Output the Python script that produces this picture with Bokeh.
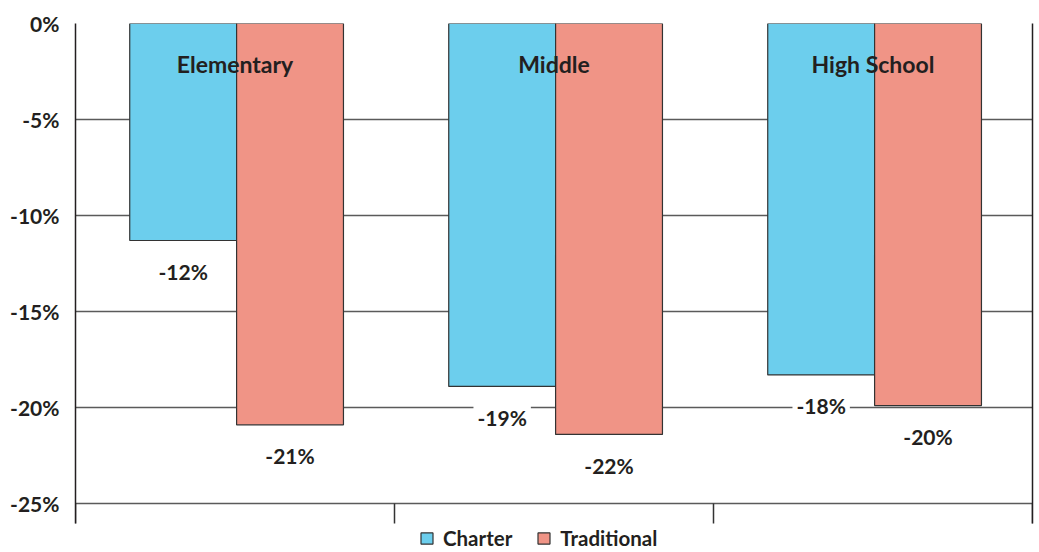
from bokeh.plotting import figure
from bokeh.models import ColumnDataSource, FixedTicker, Legend, LegendItem, Range1d, LinearAxis
from bokeh.core.properties import value
from bokeh.embed import file_html
from bokeh.resources import INLINE

categories = ["Elementary", "Middle", "High School"]
charter = [-11.3, -18.9, -18.3]
traditional = [-20.9, -21.4, -19.9]
charter_labels = ["-12%", "-19%", "-18%"]
traditional_labels = ["-21%", "-22%", "-20%"]
y_ticks = [0, -5, -10, -15, -20, -25]
y_tick_labels = ["0%", "-5%", "-10%", "-15%", "-20%", "-25%"]
series_names = ["Charter", "Traditional"]

FONT = "Lato"
TXT = "#231f20"
GRID = "#5a5a5a"
C_CH = "#6CCEED"
C_TR = "#F09486"

Y_MIN = -25
AXIS_EXT = -26.04      # vertical frame lines run a little below the last gridline
Y_LOW = -27.55         # extra room below for the legend

BAR_W = 0.335
centers = [i + 0.5 for i in range(len(categories))]
x_ch = [c - BAR_W / 2 + 0.005 for c in centers]
x_tr = [c + BAR_W / 2 + 0.005 for c in centers]

src_ch = ColumnDataSource(dict(x=x_ch, top=[0] * 3, bottom=charter, lab=charter_labels))
src_tr = ColumnDataSource(dict(x=x_tr, top=[0] * 3, bottom=traditional, lab=traditional_labels))
src_cat = ColumnDataSource(dict(x=centers, y=[0] * 3, t=categories))

p = figure(frame_width=957, frame_height=529, x_range=Range1d(0, 3), y_range=Range1d(Y_LOW, 0),
           output_backend="svg", toolbar_location=None, x_axis_location=None,
           min_border_left=75, min_border_top=23, min_border_right=3, min_border_bottom=0)

p.background_fill_color = "white"
p.border_fill_color = "white"
p.outline_line_color = None

# y axis (left)
p.yaxis.ticker = FixedTicker(ticks=y_ticks)
p.yaxis.major_label_overrides = {t: l for t, l in zip(y_ticks, y_tick_labels)}
p.yaxis.bounds = (AXIS_EXT, 0)
p.yaxis.major_tick_line_color = None
p.yaxis.minor_tick_line_color = None
p.yaxis.axis_line_color = TXT
p.yaxis.axis_line_width = 1.5
p.yaxis.major_label_text_font = FONT
p.yaxis.major_label_text_font_style = "bold"
p.yaxis.major_label_text_font_size = "21px"
p.yaxis.major_label_text_color = TXT
p.yaxis.major_label_standoff = 10

# right frame line
ry = LinearAxis(ticker=FixedTicker(ticks=[]), bounds=(AXIS_EXT, 0),
                axis_line_color=TXT, axis_line_width=1.5,
                major_tick_line_color=None, minor_tick_line_color=None,
                major_label_text_font_size="0px", major_label_standoff=0)
p.add_layout(ry, "right")

# x axis: only group-boundary ticks hanging below the -25% line
xa = LinearAxis(ticker=FixedTicker(ticks=[0, 1, 2, 3]), fixed_location=Y_MIN,
                major_label_overrides={0: "", 1: "", 2: "", 3: ""},
                major_tick_out=20, major_tick_in=0,
                major_tick_line_color="#333333", major_tick_line_width=1.5,
                minor_tick_line_color=None, axis_line_color=None,
                major_label_text_font_size="0px", major_label_standoff=0)
p.add_layout(xa, "below")

p.xgrid.grid_line_color = None
p.ygrid.ticker = FixedTicker(ticks=y_ticks)
p.ygrid.grid_line_color = GRID
p.ygrid.grid_line_width = 1.5

r_ch = p.vbar(x="x", top="top", bottom="bottom", width=BAR_W, source=src_ch,
              fill_color=C_CH, line_color="#333333", line_width=1.2)
r_tr = p.vbar(x="x", top="top", bottom="bottom", width=BAR_W, source=src_tr,
              fill_color=C_TR, line_color="#333333", line_width=1.2)

for src in (src_ch, src_tr):
    p.text(x="x", y="bottom", text="lab", source=src, y_offset=31,
           text_align="center", text_baseline="middle",
           text_font=value(FONT), text_font_style="bold", text_font_size="21px",
           text_color=TXT, background_fill_color="white", padding=4)

p.text(x="x", y="y", text="t", source=src_cat, y_offset=40,
       text_align="center", text_baseline="middle",
       text_font=value(FONT), text_font_style="bold", text_font_size="23px",
       text_color=TXT)

legend = Legend(items=[LegendItem(label=series_names[0], renderers=[r_ch]),
                       LegendItem(label=series_names[1], renderers=[r_tr])],
                orientation="horizontal", location=(344, 2))
legend.border_line_color = None
legend.background_fill_alpha = 0
legend.padding = 0
legend.margin = 0
legend.spacing = 24
legend.glyph_width = 15
legend.glyph_height = 14
legend.label_standoff = 9
legend.label_text_font = FONT
legend.label_text_font_style = "bold"
legend.label_text_font_size = "20.5px"
legend.label_text_color = TXT
legend.label_height = 18
p.add_layout(legend)

open("out.html", "w").write(file_html(p, INLINE))
